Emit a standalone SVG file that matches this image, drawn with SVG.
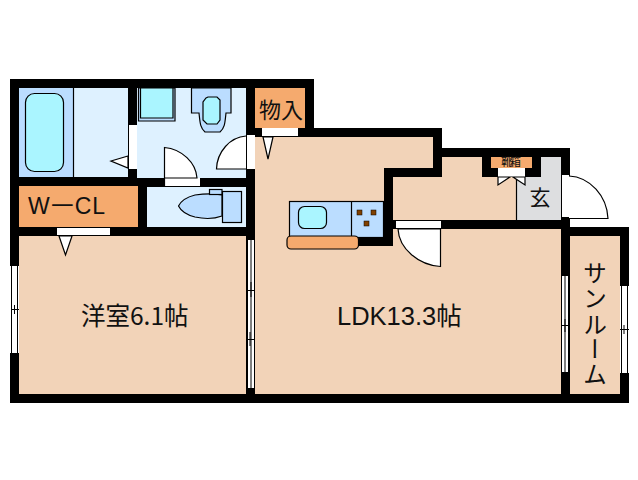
<svg xmlns="http://www.w3.org/2000/svg" width="638" height="480" viewBox="0 0 638 480">
<style>
.w{fill:#000}.o{fill:#fff}.room{fill:#f2d3b8}.pale{fill:#def1ff}.orange{fill:#f5aa6e}
.ln{stroke:#000;stroke-width:1.2}.blue{fill:#bbddff}.cyan{fill:#aaf5ff}
.dr{fill:#fff;stroke:#000;stroke-width:1.2}.th{fill:none;stroke:#000;stroke-width:1}
text{font-family:"Noto Sans CJK JP","Liberation Sans",sans-serif;fill:#111}
</style>
<rect width="638" height="480" fill="#fff"/>
<g id="walls">
<path class="w" d="M10 79H314V128H442V148H570V227H629V403H10Z"/>
</g>
<g id="bath"><rect class="pale" x="19" y="88" width="109" height="89"/><rect class="blue" x="19" y="88" width="54" height="89"/><path class="ln" d="M73.500 88V177" fill="none"/>
<rect class="cyan ln" x="25.500" y="93.500" width="38" height="78" rx="9"/>
<path class="dr" d="M111 161L128 156V168Z"/><rect class="o" x="129" y="125" width="8" height="44"/></g>
<g id="washroom"><rect class="pale" x="137" y="88" width="109" height="90"/>
<path class="blue ln" d="M138.500 88V121H175V88Z"/><path class="cyan ln" d="M140.500 88V118H173V88Z"/>
<path class="blue ln" d="M191.500 88V113H199C200 122 200 128 205 132H220C225 128 225 122 226 113H231V88Z"/>
<path class="cyan ln" d="M206 98L208 97H217L220 100V120L217 124H207L203 120V102Z"/>
<rect class="o" x="164" y="178" width="36" height="8"/><path class="dr" d="M164.500 186V147.500C182 149 196 163 197 178H164.500"/>
<path class="dr" d="M246 136C230 137 217 152 216.500 169H246"/><rect class="o" x="247" y="135" width="8" height="34"/></g>
<g id="monoire"><rect class="orange" x="255" y="88" width="50" height="40"/><text x="281" y="118" font-size="22" text-anchor="middle">物入</text>
<rect class="o" x="262" y="128" width="36" height="8"/></g>
<g id="wcl"><rect class="orange" x="19" y="186" width="119" height="41"/><text x="28" y="214" font-size="23" letter-spacing="1" style="font-family:'Liberation Sans',sans-serif">W一CL</text>
<rect class="o" x="57" y="228" width="53" height="7"/></g>
<g id="toilet"><rect class="pale" x="147" y="187" width="99" height="40"/>
<path class="blue ln" d="M222 195C212 193 202 194 195 195C187 197 181 201 178.500 206C181 211 187 215 195 217C204 219 214 219 222 216Z"/>
<rect class="blue ln" x="209.500" y="189.500" width="12.500" height="5"/><rect class="blue ln" x="222.500" y="191.500" width="19" height="31"/></g>
<g id="western"><rect class="room" x="19" y="236" width="227" height="158"/>
<path class="dr" d="M59 236H72L65.500 255Z"/><text x="81" y="325" font-size="24.500">洋室6.1帖</text>
<rect class="o" x="10" y="266" width="9" height="87"/><path class="th" d="M11.500 266V353M17.500 266V353M11 309.500H19M14.500 305V314"/></g>
<g id="ldk"><path class="room" d="M255 137H433V168H384V237H358V246H393V229H561V394H255Z"/>
<text x="337" y="325" font-size="25.500" style="font-family:'Liberation Sans','Noto Sans CJK JP',sans-serif">LDK13.3帖</text>
<path class="dr" d="M263 137H273L268 159Z"/>
<rect class="o" x="247" y="240" width="8" height="148"/><path class="th" d="M247.500 240V388M254.500 240V388M251 240V388M247 290.500H255M251 282V297M247 339.500H255M250 332V346"/>
<rect class="o" x="396" y="221" width="45" height="7"/><path class="dr" d="M440.500 229V266.500C419 265 399 249 398 229H440.500"/></g>
<g id="kitchen"><rect class="blue ln" x="289.500" y="201.500" width="94" height="36"/><path class="ln" d="M351.500 201V237" fill="none"/>
<rect class="cyan ln" x="298.500" y="206.500" width="28" height="22" rx="6"/>
<g fill="#804000" stroke="#000" stroke-width=".5"><rect x="357" y="210" width="5" height="5"/><rect x="371" y="210" width="5" height="5"/><rect x="364" y="221" width="5" height="5"/></g>
<rect class="orange ln" x="287" y="236" width="71.500" height="13" rx="4"/></g>
<g id="hall"><path class="room" d="M393 177H442V157H482V177H517V220H393Z"/>
<path fill="#dddee0" d="M541 157H561V220H517V177H541Z"/><path class="ln" d="M516.500 177V220" fill="none"/>
<text x="540" y="205" font-size="21" text-anchor="middle">玄</text>
<rect class="o" x="562" y="175" width="7" height="42"/><path class="dr" d="M569 176C590 177 607 196 608 218.500H569"/></g>
<g id="shoebox"><rect class="w" x="482" y="157" width="59" height="20"/><rect class="orange" x="491" y="157" width="41" height="11"/>
<text x="511" y="166" font-size="11.500" text-anchor="middle" textLength="20">靴箱</text><rect class="o" x="498" y="168" width="27" height="9"/>
<path class="dr" d="M498 177V185L510 177ZM525 177V185L513 177Z"/></g>
<g id="sunroom"><rect class="room" x="570" y="236" width="50" height="158"/>
<text x="595" y="261" font-size="24" style="writing-mode:vertical-rl" textLength="125">サンルーム</text>
<rect class="o" x="561" y="276" width="8" height="96"/><path class="th" d="M561.500 276V372M565 276V372M568.500 276V372M561 325.500H569M565 319V332"/>
<rect class="o" x="620" y="286" width="9" height="87"/><path class="th" d="M621.500 286V373M627.500 286V373M620 329.500H629M624 325V334"/></g>
<g id="connectors"/>
</svg>
